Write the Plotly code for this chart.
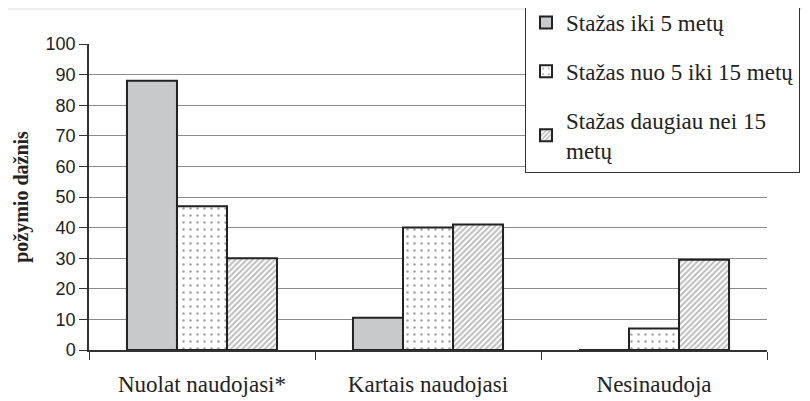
import plotly.graph_objects as go

categories = ["Nuolat naudojasi*", "Kartais naudojasi", "Nesinaudoja"]
series_names = ["Stažas iki 5 metų", "Stažas nuo 5 iki 15 metų", "Stažas daugiau nei 15<br>metų"]
vals_iki5 = [88, 10.5, 0]
vals_5_15 = [47, 40, 7]
vals_15plus = [30, 41, 29.5]
y_ticks = [0, 10, 20, 30, 40, 50, 60, 70, 80, 90, 100]

serif = "Liberation Serif"
sans = "Liberation Sans"

fig = go.Figure()
fig.add_trace(go.Bar(
    x=categories, y=vals_iki5, name=series_names[0], legendgroup="a",
    marker=dict(color="#c8c9cb", line=dict(color="#222222", width=2)),
))
fig.add_trace(go.Bar(
    x=categories, y=vals_5_15, name=series_names[1], legendgroup="b",
    marker=dict(color="white", line=dict(color="#222222", width=2),
                pattern=dict(shape=".", fgcolor="#444444", bgcolor="white", size=7, solidity=0.1)),
))
fig.add_trace(go.Bar(
    x=categories, y=vals_15plus, name=series_names[2], legendgroup="c",
    marker=dict(color="white", line=dict(color="#222222", width=2),
                pattern=dict(shape="/", fgcolor="#7a7a7a", bgcolor="white", size=4, solidity=0.5)),
))

fig.update_layout(
    width=810, height=401,
    barmode="group", bargap=0.336, bargroupgap=0,
    plot_bgcolor="white", paper_bgcolor="white",
    margin=dict(l=81, r=51, t=36, b=59, autoexpand=False),
    showlegend=True,
    legend=dict(
        x=(525 - 89) / 678, xanchor="left", y=(350 - 173) / 306, yanchor="bottom",
        font=dict(family=serif, size=23, color="#222222"),
        bordercolor="#333333", borderwidth=1, bgcolor="white",
        tracegroupgap=16, traceorder="grouped",
        entrywidth=236, entrywidthmode="pixels",
    ),
    xaxis=dict(
        showline=True, linecolor="#333333", linewidth=1.5,
        ticks="outside", tickson="boundaries", ticklen=8, tickcolor="#333333",
        tickfont=dict(family=serif, size=23, color="#222222"),
        ticklabelstandoff=13,
        showgrid=False,
    ),
    yaxis=dict(
        range=[0, 100], tickvals=y_ticks,
        showline=True, linecolor="#333333", linewidth=1.5,
        ticks="outside", ticklen=8, tickcolor="#333333",
        tickfont=dict(family=sans, size=18, color="#222222"),
        showgrid=True, gridcolor="#8c8c8c", gridwidth=1,
        zeroline=False,
        title=dict(text="<b>požymio dažnis</b>", font=dict(family=serif, size=20, color="#222222"), standoff=12),
    ),
    shapes=[dict(type="line", xref="paper", yref="paper",
                 x0=-89 / 678, x1=721 / 678, y0=341 / 306, y1=341 / 306,
                 line=dict(color="#dddddd", width=1))],
)

fig.write_html("out.html")
